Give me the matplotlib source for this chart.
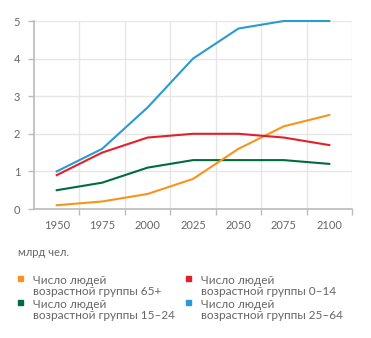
import matplotlib.pyplot as plt
import numpy as np

plt.rcParams['font.family'] = ['Lato', 'DejaVu Sans']

# data (billions of people)
years = [1950, 1975, 2000, 2025, 2050, 2075, 2100]
age_65 = [0.1, 0.2, 0.4, 0.8, 1.6, 2.2, 2.5]
age_0_14 = [0.9, 1.5, 1.9, 2.0, 2.0, 1.9, 1.7]
age_15_24 = [0.5, 0.7, 1.1, 1.3, 1.3, 1.3, 1.2]
age_25_64 = [1.0, 1.6, 2.7, 4.0, 4.8, 5.0, 5.0]

labels = ['Число людей\nвозрастной группы 65+',
          'Число людей\nвозрастной группы 0–14',
          'Число людей\nвозрастной группы 15–24',
          'Число людей\nвозрастной группы 25–64']
colors = ['#f7941d', '#e3202a', '#006b3f', '#2b9ad4']
series = [age_65, age_0_14, age_15_24, age_25_64]

txt = '#666666'
fig = plt.figure(figsize=(3.71, 3.38), dpi=100)
ax = fig.add_axes([34/371, 1-209/338, (352-34)/371, (209-21)/338])

# draw order: green, orange, red, blue on top
for i in [2, 0, 1, 3]:
    ax.plot(years, series[i], color=colors[i], lw=1.5, clip_on=False, zorder=3)

ax.set_xlim(1937.5, 2112.5)
ax.set_ylim(0, 5)
ax.set_xticks(years)
ax.set_xticks(np.arange(1962.5, 2112.6, 25), minor=True)
ax.set_yticks([0, 1, 2, 3, 4, 5])
ax.grid(False)
ax.grid(True, which='minor', axis='x', color='#e6e6e6', lw=1)
ax.grid(True, which='major', axis='y', color='#e6e6e6', lw=1)
ax.tick_params(axis='x', which='major', length=0, pad=8, labelsize=8, labelcolor=txt)
ax.tick_params(axis='x', which='minor', length=4, color='#bbbbbb', width=1)
ax.tick_params(axis='y', length=4, color='#bbbbbb', width=1, labelsize=8,
               labelcolor=txt, pad=6)
for s in ['top', 'right']:
    ax.spines[s].set_visible(False)
for s in ['left', 'bottom']:
    ax.spines[s].set_color('#bbbbbb')
    ax.spines[s].set_linewidth(1.2)

fig.text(18/371, 1-252/338, 'млрд чел.', fontsize=8, color=txt, va='center')

# legend
pos = [(20, 286), (188, 286), (20, 310), (188, 310)]
for (x, y), lab, c in zip(pos, labels, colors):
    fig.patches.append(plt.Rectangle(((x-2.5)/371, 1 - (y-8+2.5)/338),
                                     5/371, 5/338, color=c,
                                     transform=fig.transFigure))
    fig.text((x+13)/371, 1-y/338, lab, fontsize=8.5, color=txt, va='center',
             linespacing=0.95)

fig.savefig('out.png', dpi=100)
